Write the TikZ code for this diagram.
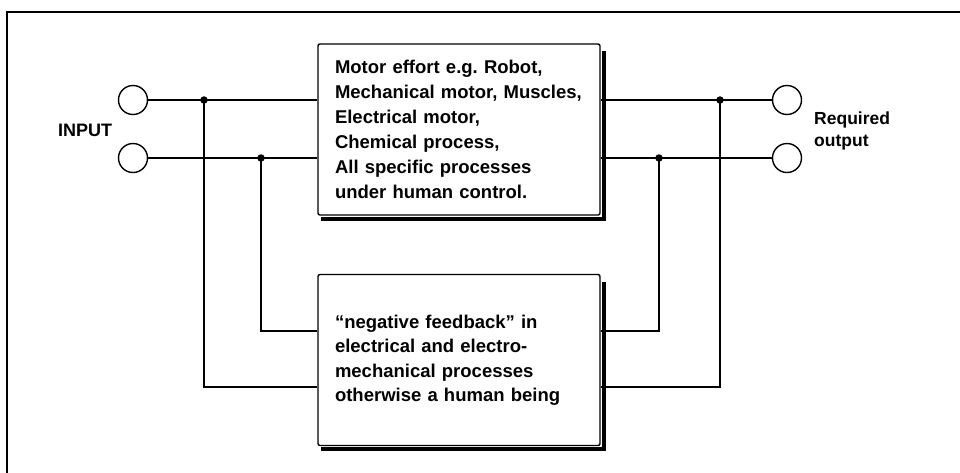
\documentclass[tikz,border=0pt]{standalone}
\usepackage{fontspec}
\setmainfont{Liberation Sans}
\usetikzlibrary{calc}
\frenchspacing
\begin{document}
\begin{tikzpicture}[x=1pt,y=-1pt,
  wire/.style={line width=1.4pt},
  procbox/.style={draw,line width=1.4pt,rounded corners=2pt,minimum width=282pt,minimum height=171pt,
    inner xsep=17pt,text width=248pt,align=left,font=\bfseries\fontsize{18.5}{25}\selectfont},
  term/.style={draw,circle,line width=1.4pt,minimum size=29pt,inner sep=0pt},
  dotj/.style={circle,fill,inner sep=0pt,minimum size=7.5pt},
  lbl/.style={font=\bfseries\fontsize{17.5}{22}\selectfont,align=left}]
\useasboundingbox (0,0) rectangle (960,472);
\fill[white] (0,0) rectangle (960,472);
% outer frame (top and left edges visible)
\draw[line width=1.6pt] (7,480) -- (7,12) -- (970,12);
% boxes
\node[procbox] (b1) at (459,129.5) {Motor effort e.g. Robot,\\Mechanical motor, Muscles,\\Electrical motor,\\Chemical process,\\All specific processes\\under human control.};
\node[procbox,font=\bfseries\fontsize{18.5}{24.5}\selectfont] (b2) at (459,360) {``negative feedback'' in\\electrical and electro-\\mechanical processes\\otherwise a human being};
% shadows
\draw[line width=4pt] ($(b1.north east)+(3,8)$) -- ($(b1.south east)+(3,3)$) -- ($(b1.south west)+(4,3)$);
\draw[line width=4pt] ($(b2.north east)+(3,8)$) -- ($(b2.south east)+(3,3)$) -- ($(b2.south west)+(4,3)$);
% terminals
\node[term] (i1) at (133,100) {};
\node[term] (i2) at (133,158) {};
\node[term] (o1) at (787,100) {};
\node[term] (o2) at (787,158) {};
\node[lbl,inner sep=0pt,font=\bfseries\fontsize{18}{22}\selectfont] (inl) at (85,130) {INPUT};
\node[lbl,anchor=west,inner sep=0pt] (outl) at (814,131) {Required\\output};
% junctions
\node[dotj] (ja) at (204,100) {};
\node[dotj] (jb) at (261,158) {};
\node[dotj] (jc) at (720,100) {};
\node[dotj] (jd) at (659,158) {};
\coordinate (ka) at (204,387);
\coordinate (kb) at (261,331);
\coordinate (kc) at (720,387);
\coordinate (kd) at (659,331);
% wires
\draw[wire] (i1.east) -- (ja.center) -- (b1.west |- ja);
\draw[wire] (i2.east) -- (jb.center) -- (b1.west |- jb);
\draw[wire] (b1.east |- jc) -- (jc.center) -- (o1.west);
\draw[wire] (b1.east |- jd) -- (jd.center) -- (o2.west);
\draw[wire] (ja.center) -- (ka) -- (b2.west |- ka);
\draw[wire] (jb.center) -- (kb) -- (b2.west |- kb);
\draw[wire] (jc.center) -- (kc) -- (b2.east |- kc);
\draw[wire] (jd.center) -- (kd) -- (b2.east |- kd);
\end{tikzpicture}
\end{document}
